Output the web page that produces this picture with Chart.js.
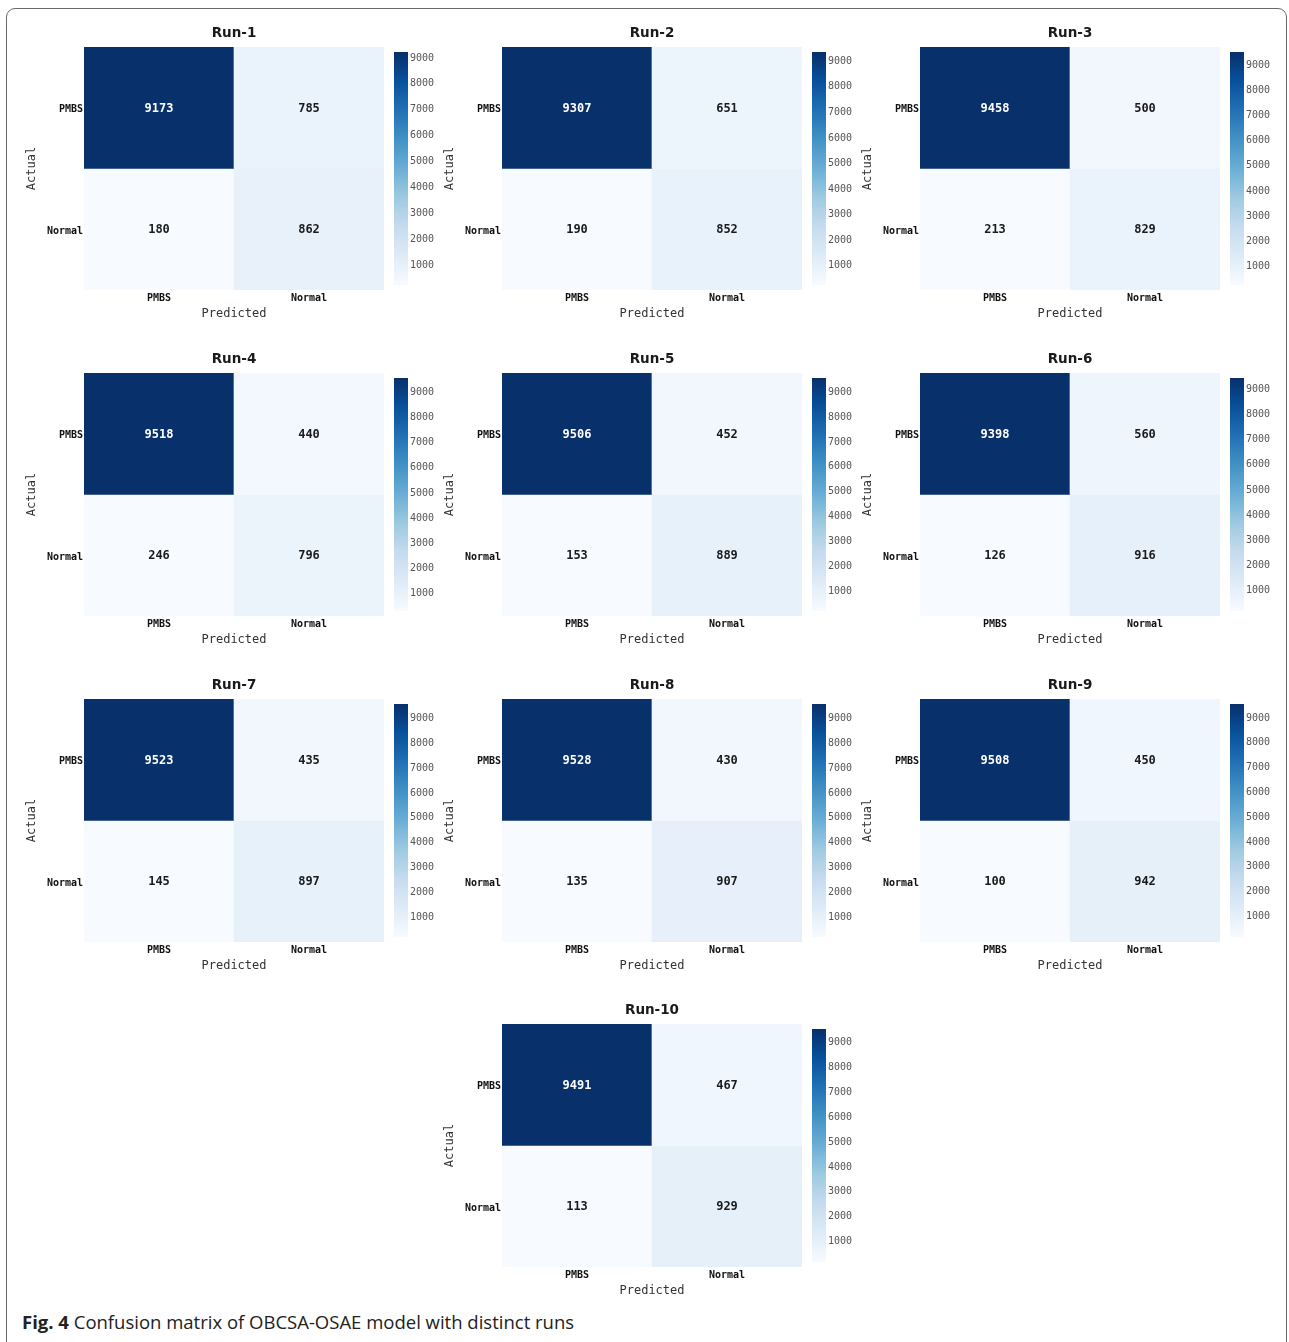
<!DOCTYPE html>
<html>
<head>
<meta charset="utf-8">
<title>Confusion matrices</title>
<script src="https://cdn.jsdelivr.net/npm/chart.js@4.4.1/dist/chart.umd.min.js"></script>
<style>
  html, body { margin: 0; padding: 0; background: #fff; }
  body { position: relative; width: 1289px; height: 1342px; overflow: hidden; }
  .frame {
    position: absolute; left: 6px; top: 8px; width: 1281px; height: 1400px;
    border: 1px solid #6a6a6a; border-radius: 9px; box-sizing: border-box;
  }
  canvas { position: absolute; display: block; }
  .caption {
    position: absolute; left: 22px; top: 1309px; white-space: nowrap;
    font-family: "Open Sans", "Noto Sans", sans-serif; font-size: 18.5px; color: #222;
  }
  .caption b { font-weight: 700; }
</style>
</head>
<body>
<div class="frame"></div>
<div id="panels"></div>
<div class="caption"><b>Fig. 4</b> Confusion matrix of OBCSA-OSAE model with distinct runs</div>

<script>
// ---- data: confusion matrix counts per run (rows = actual, cols = predicted) ----
const runLabels = ['Run-1', 'Run-2', 'Run-3', 'Run-4', 'Run-5', 'Run-6', 'Run-7', 'Run-8', 'Run-9', 'Run-10'];
const classLabels = ['PMBS', 'Normal'];
const pmbsPredictedPmbs     = [9173, 9307, 9458, 9518, 9506, 9398, 9523, 9528, 9508, 9491];
const pmbsPredictedNormal   = [785, 651, 500, 440, 452, 560, 435, 430, 450, 467];
const normalPredictedPmbs   = [180, 190, 213, 246, 153, 126, 145, 135, 100, 113];
const normalPredictedNormal = [862, 852, 829, 796, 889, 916, 897, 907, 942, 929];
const colorbarTicks = [1000, 2000, 3000, 4000, 5000, 6000, 7000, 8000, 9000];

// ---- "Blues" sequential colour map ----
const bluesStops = ['#f7fbff', '#deebf7', '#c6dbef', '#9ecae1', '#6baed6', '#4292c6', '#2171b5', '#08519c', '#08306b'];
function hexToRgb(h) {
  return [parseInt(h.slice(1, 3), 16), parseInt(h.slice(3, 5), 16), parseInt(h.slice(5, 7), 16)];
}
function blues(t) {
  t = Math.max(0, Math.min(1, t));
  const pos = t * (bluesStops.length - 1);
  const k = Math.min(Math.floor(pos), bluesStops.length - 2);
  const f = pos - k;
  const a = hexToRgb(bluesStops[k]), b = hexToRgb(bluesStops[k + 1]);
  const c = a.map((v, n) => Math.round(v + (b[n] - v) * f));
  return `rgb(${c[0]},${c[1]},${c[2]})`;
}

Chart.defaults.font.family = '"DejaVu Sans Mono", monospace';
Chart.defaults.color = '#222';
Chart.defaults.animation = false;

// writes the count in the middle of every cell
const cellText = {
  id: 'cellText',
  afterDatasetsDraw(chart, args, opts) {
    const ctx = chart.ctx;
    ctx.save();
    ctx.font = 'bold 12px "DejaVu Sans Mono", monospace';
    ctx.textAlign = 'center';
    ctx.textBaseline = 'middle';
    chart.data.datasets.forEach((ds, di) => {
      chart.getDatasetMeta(di).data.forEach((bar, j) => {
        const v = ds.counts[j];
        const t = (v - opts.vmin) / (opts.vmax - opts.vmin);
        ctx.fillStyle = t > 0.5 ? '#ffffff' : '#1a1a1a';
        ctx.fillText(String(v), bar.x, (bar.y + bar.base) / 2 + 1);
      });
    });
    ctx.restore();
  }
};

function makeCanvas(left, top, width, height) {
  const c = document.createElement('canvas');
  c.width = width; c.height = height;
  c.style.left = left + 'px'; c.style.top = top + 'px';
  c.style.width = width + 'px'; c.style.height = height + 'px';
  document.getElementById('panels').appendChild(c);
  return c;
}

const AXIS_W = 70, TITLE_H = 30, XAXIS_H = 38, CELL_W = 150, CELL_H = 121.5;
const CBAR_GAP = 10, CBAR_W = 14, CBAR_LABEL_W = 36, CBAR_INSET = 5;

function drawRun(i, mapLeft, mapTop) {
  const matrix = [
    [pmbsPredictedPmbs[i], pmbsPredictedNormal[i]],
    [normalPredictedPmbs[i], normalPredictedNormal[i]]
  ];
  const all = matrix.flat();
  const vmin = Math.min(...all), vmax = Math.max(...all);
  const n = classLabels.length;
  const mapW = CELL_W * n, mapH = CELL_H * n;

  // heat map: one floating bar per cell, one dataset per actual class row
  const datasets = matrix.map((row, r) => ({
    label: classLabels[r],
    data: row.map(() => [n - 1 - r, n - r]),
    counts: row,
    backgroundColor: row.map(v => blues((v - vmin) / (vmax - vmin))),
    borderWidth: 0,
    borderSkipped: false,
    grouped: false,
    barPercentage: 1,
    categoryPercentage: 1
  }));

  const hm = makeCanvas(mapLeft - AXIS_W, mapTop - TITLE_H, AXIS_W + mapW, TITLE_H + mapH + XAXIS_H);
  new Chart(hm, {
    type: 'bar',
    data: { labels: classLabels, datasets },
    plugins: [cellText],
    options: {
      responsive: false,
      devicePixelRatio: 1,
      layout: { padding: 0 },
      plugins: {
        legend: { display: false },
        tooltip: { enabled: false },
        title: {
          display: true, fullSize: false, text: runLabels[i], color: '#1a1a1a',
          font: { family: '"DejaVu Sans", sans-serif', weight: 'bold', size: 13.5, lineHeight: 1 },
          padding: { top: 9.5, bottom: 7 }
        },
        cellText: { vmin, vmax }
      },
      scales: {
        x: {
          type: 'category', offset: true,
          grid: { display: false, drawTicks: false }, border: { display: false },
          ticks: { padding: 2, color: '#111', font: { weight: 'bold', size: 10 } },
          title: { display: true, text: 'Predicted', color: '#333', font: { size: 12 }, padding: { top: 0, bottom: 7 } },
          afterFit: s => { s.height = XAXIS_H; s.paddingLeft = 0; s.paddingRight = 0; }
        },
        y: {
          type: 'linear', min: 0, max: n,
          grid: { display: false, drawTicks: false }, border: { display: false },
          afterBuildTicks: s => { s.ticks = classLabels.map((_, r) => ({ value: n - 1 - r + 0.5 })); },
          ticks: {
            padding: 1, labelOffset: 2, color: '#111', font: { weight: 'bold', size: 10 },
            callback: v => classLabels[n - 1 - Math.floor(v)]
          },
          title: { display: true, text: 'Actual', color: '#333', font: { size: 12 }, padding: { top: 11, bottom: 0 } },
          afterFit: s => { s.width = AXIS_W; s.paddingTop = 0; s.paddingBottom = 0; }
        }
      }
    }
  });

  // colour bar beside the heat map
  const cb = makeCanvas(mapLeft + mapW + CBAR_GAP, mapTop, CBAR_W + CBAR_LABEL_W, mapH);
  new Chart(cb, {
    type: 'bar',
    data: {
      labels: [''],
      datasets: [{
        data: [[vmin, vmax]],
        borderWidth: 0,
        borderSkipped: false,
        barPercentage: 1,
        categoryPercentage: 1,
        backgroundColor: c => {
          const a = c.chart.chartArea;
          if (!a) return bluesStops[4];
          const g = c.chart.ctx.createLinearGradient(0, a.bottom, 0, a.top);
          bluesStops.forEach((col, k) => g.addColorStop(k / (bluesStops.length - 1), col));
          return g;
        }
      }]
    },
    options: {
      responsive: false,
      devicePixelRatio: 1,
      layout: { padding: { top: CBAR_INSET, bottom: CBAR_INSET, left: 0, right: 0 } },
      plugins: { legend: { display: false }, tooltip: { enabled: false } },
      scales: {
        x: { display: false, offset: true },
        y: {
          position: 'right', min: vmin, max: vmax,
          grid: { display: false, drawTicks: false }, border: { display: false },
          afterBuildTicks: s => { s.ticks = colorbarTicks.filter(t => t >= vmin && t <= vmax).map(value => ({ value })); },
          ticks: { padding: 2, labelOffset: 1.5, color: '#555', font: { size: 10 }, callback: v => String(v) },
          afterFit: s => { s.width = CBAR_LABEL_W; s.paddingTop = 0; s.paddingBottom = 0; }
        }
      }
    }
  });
}

const colLefts = [84, 502, 920];
const rowTops = [47, 373, 699, 1024];
runLabels.forEach((_, i) => {
  const row = Math.floor(i / 3);
  const col = i < 9 ? i % 3 : 1;
  drawRun(i, colLefts[col], rowTops[row]);
});
</script>
</body>
</html>
